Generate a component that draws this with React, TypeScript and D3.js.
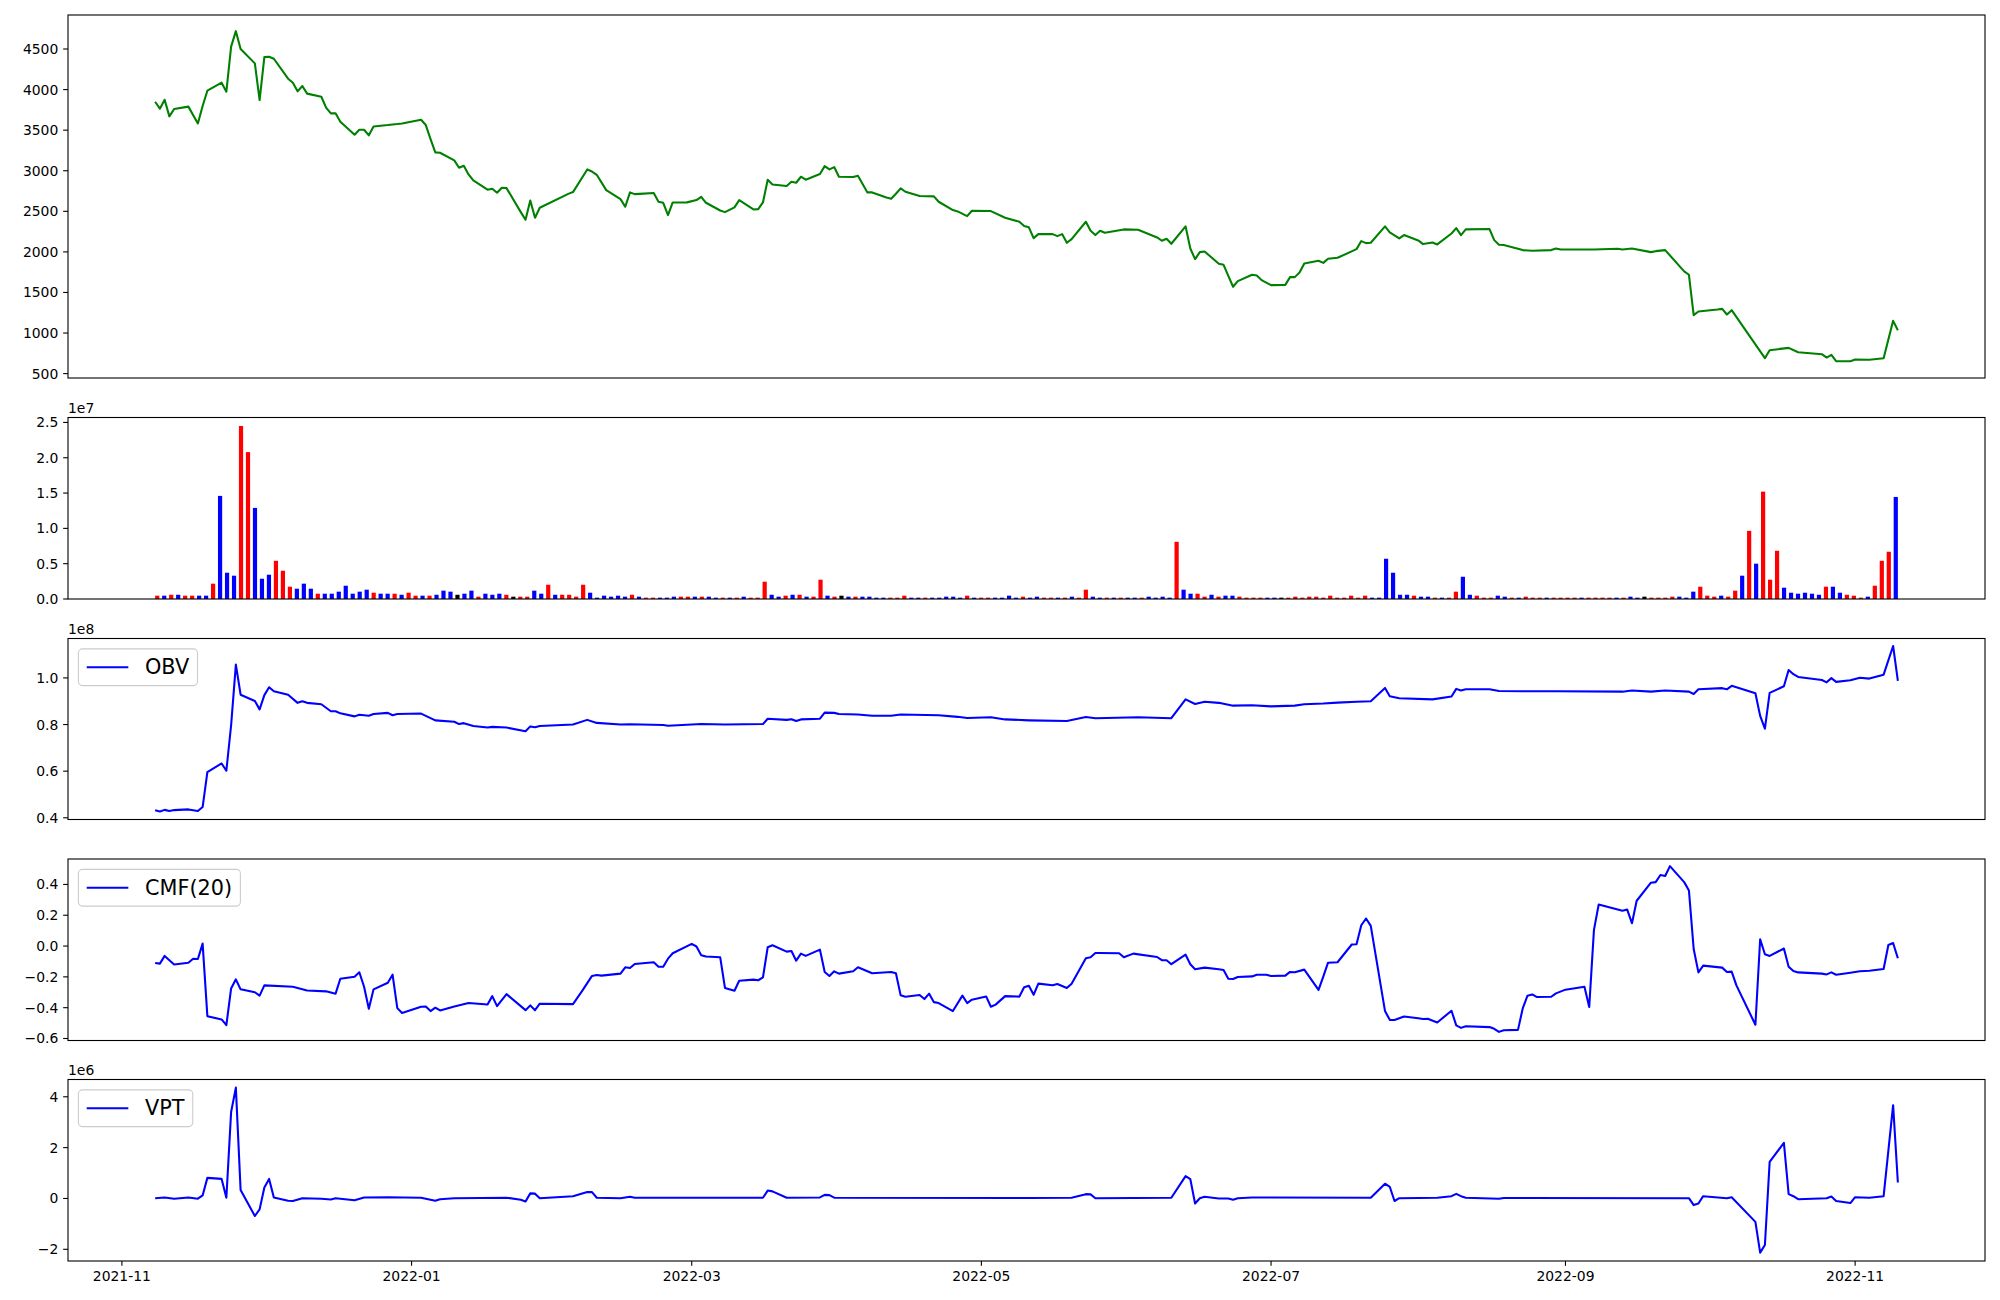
import React, { useMemo } from "react";
import * as d3 from "d3";

// ---------- data ----------
const startDate = "2021-11-08"; // first trading day; line data keyed by calendar-day offset from it
const lastDayOffset = 367; // 2022-11-10

const xTickMonths = ["2021-11-01", "2022-01-01", "2022-03-01", "2022-05-01", "2022-07-01", "2022-09-01", "2022-11-01"];
const priceTicks = [500, 1000, 1500, 2000, 2500, 3000, 3500, 4000, 4500];
const volumeTicks = [0, 0.5, 1.0, 1.5, 2.0, 2.5]; // x1e7
const obvTicks = [0.4, 0.6, 0.8, 1.0]; // x1e8
const cmfTicks = [-0.6, -0.4, -0.2, 0, 0.2, 0.4];
const vptTicks = [-2, 0, 2, 4]; // x1e6

// close price [dayOffset, value]
const pricePts: [number, number][] = [
  [0,3850],[1,3765],[2,3875],[3,3670],[4,3760],[7,3790],[9,3583],[10,3797],[11,3986],[14,4085],[15,3974],[16,4530],[17,4720],[18,4500],
  [21,4323],[22,3871],[23,4400],[24,4405],[25,4380],[28,4134],[29,4085],[30,3978],[31,4044],[32,3950],[35,3912],[36,3777],[37,3707],[38,3707],
  [39,3604],[42,3444],[43,3505],[44,3505],[45,3436],[46,3546],[49,3563],[50,3570],[51,3575],[52,3583],[56,3629],[57,3563],[58,3390],[59,3226],
  [60,3222],[63,3127],[64,3037],[65,3061],[66,2955],[67,2881],[70,2766],[71,2778],[72,2729],[73,2791],[74,2786],[77,2490],[78,2396],[79,2634],
  [80,2420],[81,2544],[87,2715],[88,2737],[91,3016],[92,2990],[93,2950],[95,2761],[98,2650],[99,2556],[100,2733],[101,2712],[102,2715],
  [105,2725],[106,2618],[107,2605],[108,2453],[109,2609],[112,2610],[114,2638],[115,2679],[116,2605],[119,2510],[120,2490],[122,2548],
  [123,2638],[126,2523],[127,2527],[128,2609],[129,2889],[130,2831],[133,2811],[134,2864],[135,2852],[136,2926],[137,2889],[140,2959],
  [141,3057],[142,3016],[143,3045],[144,2926],[147,2922],[148,2938],[150,2733],[151,2733],[154,2670],[155,2655],[156,2716],[157,2782],
  [158,2741],[161,2688],[164,2684],[165,2618],[168,2515],[169,2499],[171,2441],[172,2507],[176,2503],[179,2420],[182,2372],[183,2320],
  [184,2303],[185,2170],[186,2219],[189,2219],[190,2194],[191,2219],[192,2112],[193,2157],[196,2371],[197,2260],[198,2207],[199,2260],
  [200,2235],[204,2277],[207,2272],[211,2178],[212,2137],[213,2161],[214,2100],[217,2314],[218,2042],[219,1911],[220,1997],[221,2005],
  [224,1853],[225,1841],[226,1705],[227,1570],[228,1640],[231,1718],[232,1710],[233,1652],[235,1590],[238,1594],[239,1689],[240,1689],
  [241,1746],[242,1857],[245,1890],[246,1865],[247,1915],[249,1927],[253,2034],[254,2133],[255,2108],[256,2112],[259,2314],[260,2240],
  [262,2166],[263,2207],[266,2141],[267,2096],[269,2116],[270,2092],[273,2227],[274,2293],[275,2207],[276,2277],[281,2281],[282,2145],
  [283,2088],[284,2084],[288,2022],[290,2013],[294,2022],[295,2042],[296,2030],[303,2030],[308,2038],[309,2030],[311,2042],[315,1997],
  [316,2009],[318,2022],[322,1760],[323,1718],[324,1220],[325,1265],[329,1290],[330,1298],[331,1228],[332,1282],[339,690],[340,789],
  [344,817],[346,764],[351,739],[352,698],[353,731],[354,653],[357,653],[358,674],[361,670],[364,690],[366,1150],[367,1035],
];

// daily volume, millions, one per trading day (250)
const volumeM = [
  0.47,0.47,0.6,0.6,0.47,0.47,0.47,0.47,2.17,14.6,
  3.72,3.3,24.5,20.8,12.9,2.87,3.44,5.41,4.0,1.74,
  1.46,2.17,1.46,0.75,0.75,0.75,1.04,1.88,0.75,1.04,
  1.32,0.89,0.75,0.75,0.75,0.6,0.89,0.47,0.47,0.47,
  0.6,1.18,1.04,0.6,0.75,1.18,0.33,0.75,0.6,0.75,
  0.6,0.33,0.33,0.33,1.18,0.75,2.02,0.6,0.6,0.6,
  0.33,2.02,0.89,0.19,0.47,0.33,0.47,0.33,0.6,0.33,
  0.19,0.19,0.19,0.19,0.33,0.33,0.33,0.33,0.33,0.33,
  0.19,0.19,0.19,0.19,0.33,0.19,0.19,2.45,0.6,0.33,
  0.47,0.6,0.6,0.33,0.33,2.73,0.47,0.33,0.47,0.33,
  0.33,0.33,0.33,0.19,0.19,0.19,0.19,0.47,0.19,0.19,
  0.19,0.19,0.19,0.33,0.33,0.19,0.47,0.19,0.19,0.19,
  0.19,0.19,0.47,0.19,0.33,0.19,0.33,0.19,0.19,0.19,
  0.19,0.33,0.19,1.32,0.33,0.19,0.19,0.19,0.19,0.19,
  0.19,0.19,0.33,0.19,0.33,0.19,8.1,1.32,0.75,0.75,
  0.33,0.6,0.33,0.47,0.47,0.33,0.19,0.19,0.19,0.19,
  0.19,0.19,0.19,0.33,0.19,0.33,0.33,0.19,0.47,0.19,
  0.19,0.47,0.19,0.47,0.19,0.19,5.7,3.72,0.6,0.6,
  0.47,0.33,0.33,0.19,0.19,0.19,1.04,3.15,0.6,0.47,
  0.19,0.19,0.47,0.33,0.19,0.19,0.33,0.19,0.19,0.19,
  0.19,0.19,0.19,0.19,0.19,0.19,0.19,0.19,0.19,0.19,
  0.19,0.33,0.19,0.33,0.19,0.19,0.19,0.33,0.33,0.19,
  1.04,1.74,0.47,0.33,0.47,0.33,1.18,3.3,9.65,5.0,
  15.2,2.73,6.83,1.6,0.89,0.75,0.89,0.75,0.6,1.74,
  1.74,0.89,0.6,0.47,0.19,0.33,1.88,5.41,6.69,14.45,
];
// bar colour per trading day: r = red, b = blue, k = black
const volumeColorCodes =
  "rbrbrrbbrb" + "bbrrbbbrrr" + "bbbrbbbbbb" + "brbbrbrrbr" + "bbbkbbrbbb" +
  "rkrrbbrbrr" + "rrbbbbbbrb" + "rrbbbrrbrb" + "brbrbrrrbb" + "rbrbrrbrkb" +
  "rbbbbrrrbb" + "rbbbbbrbrr" + "bbbbrbbrrb" + "rbrrbbrbrb" + "brbbbbrbbr" +
  "rbrbbrrrrb" + "bkrrrrrrrr" + "rrrrbbbbbb" + "rbbrbrrbbr" + "rrbbrbrrrb" +
  "rrrrbrrrrb" + "rbbkrrrrbb" + "brrrbrrbrb" + "rrrbbbbbbr" + "bbrrrbrrrb";

// OBV x1e8 [dayOffset, value]
const obvPts: [number, number][] = [
  [0,.432],[1,.427],[2,.434],[3,.429],[4,.433],[7,.436],[9,.429],[10,.446],[11,.596],[14,.633],[15,.602],[16,.797],[17,1.057],[18,.928],
  [21,.901],[22,.865],[23,.926],[24,.96],[25,.943],[28,.928],[30,.893],[31,.90],[32,.893],[35,.887],[37,.857],[38,.857],[39,.848],[42,.835],
  [43,.842],[45,.838],[46,.845],[49,.85],[50,.84],[51,.845],[56,.847],[59,.818],[63,.812],[64,.802],[65,.806],[67,.794],[70,.787],[71,.79],
  [74,.787],[78,.771],[79,.792],[80,.788],[81,.794],[88,.80],[91,.82],[93,.807],[98,.80],[100,.801],[107,.798],[108,.795],[115,.802],
  [120,.80],[128,.802],[129,.825],[133,.82],[134,.823],[135,.815],[136,.822],[140,.825],[141,.851],[143,.85],[144,.845],[148,.843],
  [151,.838],[155,.838],[157,.843],[165,.84],[169,.833],[171,.828],[176,.831],[179,.822],[184,.818],[192,.815],[196,.832],[198,.827],
  [207,.831],[214,.827],[217,.908],[219,.888],[221,.898],[224,.893],[227,.881],[231,.883],[235,.878],[240,.881],[242,.887],[246,.89],
  [249,.894],[253,.898],[256,.90],[259,.957],[260,.921],[262,.913],[269,.908],[273,.92],[274,.953],[275,.946],[276,.951],[281,.951],
  [283,.944],[288,.943],[295,.943],[309,.941],[311,.946],[315,.941],[318,.946],[323,.941],[324,.931],[325,.951],[330,.956],[331,.951],
  [332,.966],[337,.934],[338,.837],[339,.782],[340,.936],[343,.964],[344,1.034],[345,1.016],[346,1.004],[351,.991],[352,.981],[353,.999],
  [354,.983],[357,.99],[359,1.001],[361,.997],[364,1.014],[366,1.137],[367,.987],
];

// CMF(20) [dayOffset, value]
const cmfPts: [number, number][] = [
  [0,-.11],[1,-.114],[2,-.064],[4,-.12],[7,-.108],[8,-.082],[9,-.084],[10,.016],[11,-.455],[14,-.476],[15,-.513],[16,-.275],[17,-.216],
  [18,-.281],[21,-.30],[22,-.322],[23,-.255],[29,-.264],[30,-.272],[32,-.288],[36,-.294],[38,-.309],[39,-.212],[42,-.199],[43,-.17],
  [44,-.264],[45,-.407],[46,-.281],[49,-.238],[50,-.186],[51,-.403],[52,-.435],[56,-.394],[57,-.392],[58,-.422],[59,-.40],[60,-.418],
  [63,-.392],[66,-.37],[70,-.379],[71,-.325],[72,-.39],[74,-.312],[78,-.416],[79,-.385],[80,-.416],[81,-.374],[88,-.377],[90,-.288],
  [92,-.194],[93,-.188],[94,-.192],[98,-.179],[99,-.138],[100,-.142],[101,-.116],[105,-.105],[106,-.134],[107,-.134],[108,-.082],
  [109,-.047],[113,.014],[114,-.003],[115,-.06],[116,-.068],[119,-.073],[120,-.272],[122,-.29],[123,-.225],[126,-.218],[127,-.222],
  [128,-.203],[129,-.008],[130,.005],[133,-.036],[134,-.032],[135,-.095],[136,-.049],[137,-.064],[140,-.023],[141,-.168],[142,-.194],
  [143,-.164],[144,-.179],[147,-.164],[148,-.138],[151,-.177],[155,-.168],[156,-.177],[157,-.32],[158,-.329],[161,-.318],[162,-.344],
  [163,-.309],[164,-.364],[165,-.37],[168,-.422],[170,-.322],[171,-.37],[172,-.348],[175,-.327],[176,-.394],[177,-.38],[179,-.325],
  [182,-.328],[183,-.268],[184,-.258],[185,-.316],[186,-.244],[189,-.255],[190,-.246],[192,-.272],[193,-.244],[196,-.079],[197,-.073],
  [198,-.045],[199,-.045],[203,-.047],[204,-.073],[206,-.049],[211,-.071],[212,-.092],[213,-.092],[214,-.118],[217,-.056],[218,-.118],
  [219,-.151],[221,-.14],[224,-.151],[225,-.155],[226,-.212],[227,-.214],[228,-.201],[231,-.197],[232,-.186],[234,-.186],[235,-.194],
  [238,-.192],[239,-.168],[240,-.17],[242,-.153],[245,-.285],[246,-.199],[247,-.108],[249,-.105],[252,.01],[253,.012],[254,.135],
  [255,.179],[256,.131],[259,-.422],[260,-.479],[261,-.48],[263,-.457],[266,-.468],[267,-.474],[268,-.472],[270,-.496],[273,-.42],
  [274,-.515],[275,-.531],[276,-.52],[281,-.526],[282,-.537],[283,-.557],[284,-.546],[287,-.544],[288,-.405],[289,-.322],[290,-.314],
  [291,-.331],[294,-.329],[295,-.307],[297,-.283],[301,-.264],[302,-.396],[303,.105],[304,.27],[309,.229],[310,.237],[311,.148],
  [312,.294],[315,.411],[316,.415],[317,.461],[318,.455],[319,.519],[322,.415],[323,.361],[324,-.019],[325,-.171],[326,-.127],
  [330,-.14],[331,-.168],[332,-.166],[333,-.255],[337,-.511],[338,.044],[339,-.053],[340,-.064],[343,-.016],[344,-.134],[345,-.162],
  [346,-.171],[351,-.179],[352,-.184],[353,-.171],[354,-.186],[357,-.173],[359,-.164],[361,-.16],[364,-.149],[365,.007],[366,.02],
  [367,-.079],
];

// VPT x1e6 [dayOffset, value]
const vptPts: [number, number][] = [
  [0,.01],[2,.04],[4,-.01],[7,.04],[9,-.01],[10,.12],[11,.81],[14,.77],[15,.03],[16,3.4],[17,4.36],[18,.33],[21,-.69],[22,-.43],
  [23,.43],[24,.77],[25,.04],[28,-.09],[29,-.1],[31,.01],[35,-.01],[37,-.04],[38,.01],[42,-.07],[44,.04],[49,.05],[56,.03],[59,-.09],
  [60,-.03],[63,.01],[74,.03],[77,-.05],[78,-.12],[79,.2],[80,.19],[81,.01],[88,.09],[91,.25],[92,.25],[93,.03],[98,.01],[100,.07],
  [101,.03],[128,.03],[129,.31],[130,.28],[133,.03],[140,.04],[141,.14],[142,.13],[143,.03],[184,.02],[193,.03],[196,.17],[197,.16],
  [198,.01],[214,.03],[217,.88],[218,.76],[219,-.2],[220,.01],[221,.07],[224,0],[226,0],[227,-.05],[228,.01],[231,.04],[256,.03],
  [259,.58],[260,.46],[261,-.1],[262,.01],[270,.03],[273,.09],[274,.18],[275,.09],[276,.03],[283,-.01],[284,.02],[323,.01],[324,-.26],
  [325,-.2],[326,.09],[331,.01],[332,.05],[337,-.92],[338,-2.13],[339,-1.83],[340,1.44],[343,2.19],[344,.17],[345,.09],[346,-.03],
  [352,.01],[353,.08],[354,-.1],[357,-.18],[358,.05],[361,.03],[364,.09],[366,3.67],[367,.63],
];

// ---------- drawing ----------
const FONT = "DejaVu Sans, Verdana, sans-serif";
const TICK_FS = 13.9;
const LEG_FS = 20.8;
const DAY = 864e5;
const S = Date.parse(startDate + "T00:00:00Z");
const toDate = (d: number) => new Date(S + d * DAY);
const minus = (s: string) => s.replace("-", "\u2212");
const colorOf: Record<string, string> = { r: "red", b: "blue", k: "black" };

const L = 68;
const R = 1985;

type Panel = { top: number; bottom: number };
const P1: Panel = { top: 15, bottom: 378 };
const P2: Panel = { top: 417.5, bottom: 599 };
const P3: Panel = { top: 638.5, bottom: 819.5 };
const P4: Panel = { top: 859, bottom: 1040.5 };
const P5: Panel = { top: 1079.5, bottom: 1261 };

function YAxis({ scale, ticks, fmt }: { scale: d3.ScaleLinear<number, number>; ticks: number[]; fmt: (v: number) => string }) {
  return (
    <g>
      {ticks.map((t) => {
        const y = scale(t);
        return (
          <g key={t}>
            <line x1={L - 4.86} x2={L} y1={y} y2={y} stroke="black" strokeWidth={1.1} />
            <text x={L - 9.7} y={y} textAnchor="end" dominantBaseline="central" fontSize={TICK_FS} fontFamily={FONT} fill="black">
              {fmt(t)}
            </text>
          </g>
        );
      })}
    </g>
  );
}

function Frame({ p }: { p: Panel }) {
  return <rect x={L} y={p.top} width={R - L} height={p.bottom - p.top} fill="none" stroke="black" strokeWidth={1.1} />;
}

function OffsetText({ p, label }: { p: Panel; label: string }) {
  return (
    <text x={L} y={p.top - 4.5} fontSize={TICK_FS} fontFamily={FONT} fill="black">
      {label}
    </text>
  );
}

function Legend({ p, label, textW }: { p: Panel; label: string; textW: number }) {
  const fs = LEG_FS;
  const bx = L + 0.5 * fs;
  const by = p.top + 0.5 * fs;
  const pad = 0.4 * fs;
  const hl = 2 * fs;
  const htp = 0.8 * fs;
  const h = 36.7;
  const w = pad + hl + htp + textW + pad;
  return (
    <g>
      <rect x={bx} y={by} width={w} height={h} rx={4} ry={4} fill="white" fillOpacity={0.8} stroke="#cccccc" strokeWidth={1.1} />
      <line x1={bx + pad} x2={bx + pad + hl} y1={by + h / 2} y2={by + h / 2} stroke="blue" strokeWidth={2.08} />
      <text x={bx + pad + hl + htp} y={by + h / 2} dominantBaseline="central" fontSize={fs} fontFamily={FONT} fill="black">
        {label}
      </text>
    </g>
  );
}

export default function App() {
  const x = d3
    .scaleUtc()
    .domain([toDate(-0.05 * lastDayOffset), toDate(lastDayOffset * 1.05)])
    .range([L, R]);
  const n = volumeM.length;
  const bw = 0.6;
  const span = n - 1 + bw;
  const xb = d3
    .scaleLinear()
    .domain([-bw / 2 - 0.05 * span, n - 1 + bw / 2 + 0.05 * span])
    .range([L, R]);

  const yP = d3.scaleLinear().domain([446, 4919]).range([P1.bottom, P1.top]);
  const yV = d3.scaleLinear().domain([0, 25.7]).range([P2.bottom, P2.top]);
  const yO = d3.scaleLinear().domain([0.3927, 1.169]).range([P3.bottom, P3.top]);
  const yC = d3.scaleLinear().domain([-0.613, 0.565]).range([P4.bottom, P4.top]);
  const yT = d3.scaleLinear().domain([-2.46, 4.68]).range([P5.bottom, P5.top]);

  const mkLine = (ys: d3.ScaleLinear<number, number>) =>
    d3
      .line<[number, number]>()
      .x((d) => x(toDate(d[0])))
      .y((d) => ys(d[1]));

  const widths = useMemo(() => {
    const out: Record<string, number> = { OBV: 43, "CMF(20)": 86, VPT: 38 };
    try {
      const ctx = document.createElement("canvas").getContext("2d");
      if (ctx) {
        ctx.font = `${LEG_FS}px "DejaVu Sans"`;
        for (const k of Object.keys(out)) out[k] = ctx.measureText(k).width;
      }
    } catch (e) {}
    return out;
  }, []);

  const colors = volumeColorCodes.split("");
  const xTicks = xTickMonths.map((s) => new Date(Date.parse(s + "T00:00:00Z")));
  const fmtMonth = d3.utcFormat("%Y-%m");

  return (
    <svg width={2000} height={1300} style={{ position: "absolute", left: 0, top: 0, background: "white" }}>
      <rect x={0} y={0} width={2000} height={1300} fill="white" />

      {/* Panel 1: price */}
      <path d={mkLine(yP)(pricePts) || ""} fill="none" stroke="green" strokeWidth={2.08} strokeLinejoin="round" />
      <Frame p={P1} />
      <YAxis scale={yP} ticks={priceTicks} fmt={(v) => String(v)} />

      {/* Panel 2: volume */}
      {volumeM.map((v, i) => (
        <rect
          key={i}
          x={xb(i - bw / 2)}
          width={xb(bw) - xb(0)}
          y={yV(v)}
          height={yV(0) - yV(v)}
          fill={colorOf[colors[i]] || "blue"}
        />
      ))}
      <Frame p={P2} />
      <YAxis scale={yV} ticks={volumeTicks.map((t) => t * 10)} fmt={(v) => (v / 10).toFixed(1)} />
      <OffsetText p={P2} label="1e7" />

      {/* Panel 3: OBV */}
      <path d={mkLine(yO)(obvPts) || ""} fill="none" stroke="blue" strokeWidth={2.08} strokeLinejoin="round" />
      <Frame p={P3} />
      <YAxis scale={yO} ticks={obvTicks} fmt={(v) => v.toFixed(1)} />
      <OffsetText p={P3} label="1e8" />
      <Legend p={P3} label="OBV" textW={widths["OBV"]} />

      {/* Panel 4: CMF */}
      <path d={mkLine(yC)(cmfPts) || ""} fill="none" stroke="blue" strokeWidth={2.08} strokeLinejoin="round" />
      <Frame p={P4} />
      <YAxis scale={yC} ticks={cmfTicks} fmt={(v) => minus(v.toFixed(1))} />
      <Legend p={P4} label="CMF(20)" textW={widths["CMF(20)"]} />

      {/* Panel 5: VPT */}
      <path d={mkLine(yT)(vptPts) || ""} fill="none" stroke="blue" strokeWidth={2.08} strokeLinejoin="round" />
      <Frame p={P5} />
      <YAxis scale={yT} ticks={vptTicks} fmt={(v) => minus(String(v))} />
      <OffsetText p={P5} label="1e6" />
      <Legend p={P5} label="VPT" textW={widths["VPT"]} />

      {/* shared date axis */}
      {xTicks.map((t, i) => {
        const xx = x(t);
        return (
          <g key={i}>
            <line x1={xx} x2={xx} y1={P5.bottom} y2={P5.bottom + 4.86} stroke="black" strokeWidth={1.1} />
            <text x={xx} y={P5.bottom + 9.7} textAnchor="middle" dominantBaseline="hanging" fontSize={TICK_FS} fontFamily={FONT} fill="black">
              {fmtMonth(t)}
            </text>
          </g>
        );
      })}
    </svg>
  );
}
